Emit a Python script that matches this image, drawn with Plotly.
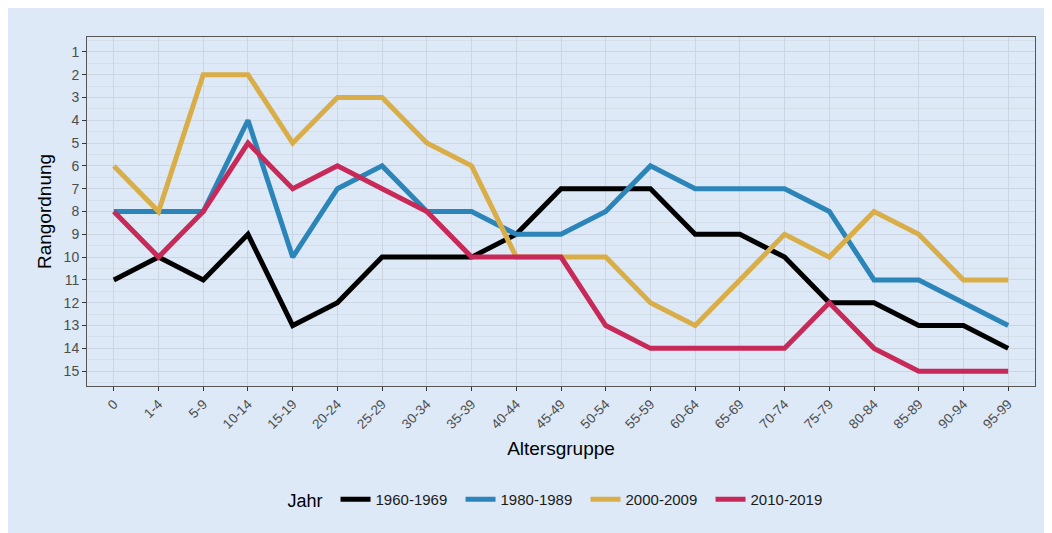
import plotly.graph_objects as go

# Altersgruppen (x axis categories)
age_groups = ["0", "1-4", "5-9", "10-14", "15-19", "20-24", "25-29", "30-34", "35-39",
              "40-44", "45-49", "50-54", "55-59", "60-64", "65-69", "70-74", "75-79",
              "80-84", "85-89", "90-94", "95-99"]

# Rang per decade
rank_1960 = [11, 10, 11, 9, 13, 12, 10, 10, 10, 9, 7, 7, 7, 9, 9, 10, 12, 12, 13, 13, 14]
rank_1980 = [8, 8, 8, 4, 10, 7, 6, 8, 8, 9, 9, 8, 6, 7, 7, 7, 8, 11, 11, 12, 13]
rank_2000 = [6, 8, 2, 2, 5, 3, 3, 5, 6, 10, 10, 10, 12, 13, 11, 9, 10, 8, 9, 11, 11]
rank_2010 = [8, 10, 8, 5, 7, 6, 7, 8, 10, 10, 10, 13, 14, 14, 14, 14, 12, 14, 15, 15, 15]

series = [
    ("1960-1969", rank_1960, "#000000"),
    ("1980-1989", rank_1980, "#2c85b8"),
    ("2000-2009", rank_2000, "#d9ae48"),
    ("2010-2019", rank_2010, "#c72a59"),
]

bg = "#dde9f6"
font_family = "Liberation Sans, Arial, sans-serif"

fig = go.Figure()
for name, values, color in series:
    fig.add_trace(go.Scatter(
        x=age_groups, y=values, name=name, mode="lines",
        line=dict(color=color, width=5),
    ))

# light blue background box filling the figure
fig.add_shape(type="rect", xref="paper", yref="paper",
              x0=-0.1, x1=1.03, y0=-0.45, y1=1.1,
              fillcolor=bg, line=dict(width=0), layer="below")

fig.update_layout(
    width=1044, height=525,
    margin=dict(l=79, r=17, t=29, b=147),
    paper_bgcolor="white",
    plot_bgcolor=bg,
    font=dict(family=font_family, color="#000000"),
    legend=dict(
        orientation="h", x=0.5, xanchor="center", y=-0.327, yanchor="middle",
        title=dict(text="Jahr ", font=dict(size=18, color="#000000")),
        font=dict(size=15, color="#1a1a1a"),
        bgcolor="rgba(0,0,0,0)", itemwidth=30,
        entrywidth=80, entrywidthmode="pixels",
    ),
)

fig.update_xaxes(
    type="category", range=[-0.6, 20.6],
    showline=True, mirror=True, linecolor="#555555", linewidth=1,
    showgrid=True, gridcolor="#cbd6e2", gridwidth=1.3,
    ticks="outside", ticklen=4, tickcolor="#333333",
    tickangle=-45, tickfont=dict(size=13.5, color="#4d4d4d"),
    title=dict(text="Altersgruppe", font=dict(size=19), standoff=10),
    zeroline=False, automargin=False,
)

fig.update_yaxes(
    range=[15.65, 0.35], tickmode="array", tickvals=list(range(1, 16)),
    showline=True, mirror=True, linecolor="#555555", linewidth=1,
    showgrid=True, gridcolor="#cbd6e2", gridwidth=1.3,
    minor=dict(tickmode="array", tickvals=[i + 0.5 for i in range(0, 16)],
               showgrid=True, gridcolor="#d4dfea", gridwidth=0.7, ticks=""),
    ticks="outside", ticklen=4, tickcolor="#333333",
    tickfont=dict(size=14, color="#4d4d4d"),
    title=dict(text="Rangordnung", font=dict(size=19), standoff=6),
    zeroline=False, automargin=False,
)

fig.write_html("out.html")
